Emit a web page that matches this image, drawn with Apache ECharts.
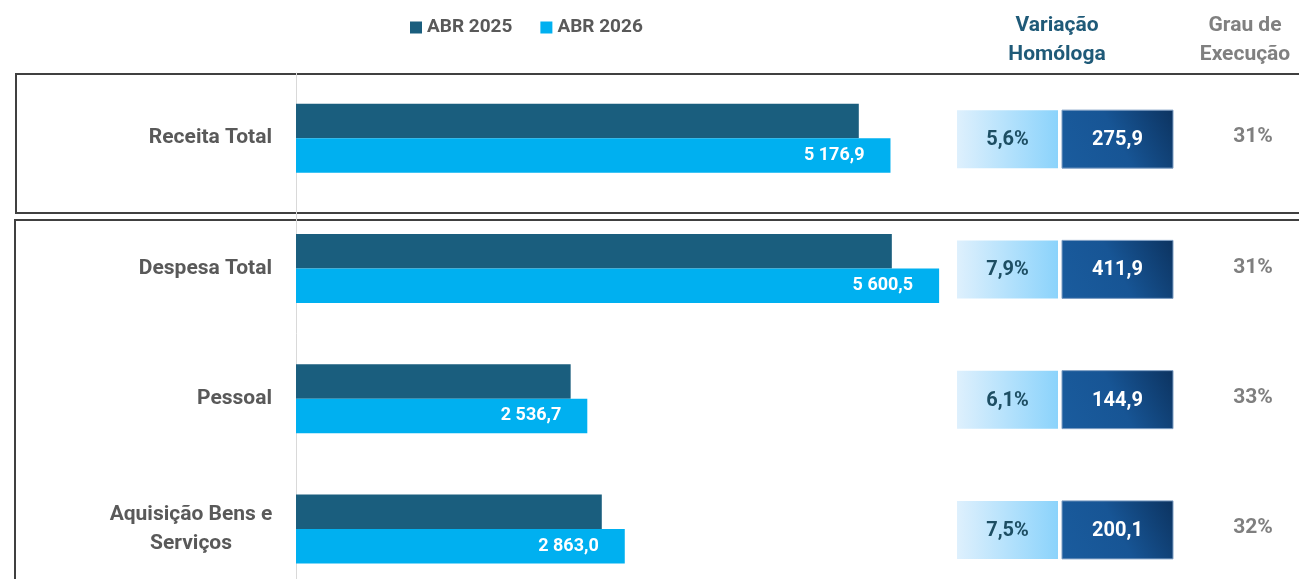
<!DOCTYPE html>
<html>
<head>
<meta charset="utf-8">
<script src="https://cdn.jsdelivr.net/npm/echarts@6/dist/echarts.min.js"></script>
<style>
  html, body { margin: 0; padding: 0; background: #fff; overflow: hidden; }
  #main { width: 1299px; height: 640px; }
</style>
</head>
<body>
<div id="main"></div>
<script>
// dados do gráfico
var categorias = ['Receita Total', 'Despesa Total', 'Pessoal', 'Aquisição Bens e\nServiços'];
var abr2025 = [4901.0, 5188.6, 2391.8, 2662.9];
var abr2026 = [5176.9, 5600.5, 2536.7, 2863.0];
var varPct = ['5,6%', '7,9%', '6,1%', '7,5%'];
var varAbs = [275.9, 411.9, 144.9, 200.1];
var grauExec = ['31%', '31%', '33%', '32%'];

var FONT = 'Roboto, "Noto Sans", sans-serif';

function fmt(v) {
  var s = v.toFixed(1).replace('.', ',');
  var p = s.split(',');
  p[0] = p[0].replace(/\B(?=(\d{3})+(?!\d))/g, ' ');
  return p.join(',');
}

var chart = echarts.init(document.getElementById('main'));

var ladoDireito = categorias.map(function (c, i) {
  return [0, c, varPct[i], varAbs[i], grauExec[i]];
});

chart.setOption({
  animation: false,
  textStyle: { fontFamily: FONT },
  legend: {
    data: ['ABR 2025', 'ABR 2026'],
    left: 405,
    top: 13,
    icon: 'rect',
    itemWidth: 12,
    itemHeight: 12,
    itemGap: 28,
    itemStyle: { borderWidth: 0 },
    textStyle: { color: '#595959', fontSize: 19, fontWeight: 'bold', fontFamily: FONT }
  },
  graphic: [
    { type: 'rect', shape: { x: 16, y: 74, width: 1320, height: 139 },
      style: { fill: 'none', stroke: '#404040', lineWidth: 2 }, z: -1 },
    { type: 'rect', shape: { x: 15, y: 220, width: 1320, height: 400 },
      style: { fill: 'none', stroke: '#404040', lineWidth: 2 }, z: -1 },
    { type: 'text', x: 1057, y: 11,
      style: { text: 'Variação\nHomóloga', fill: '#1f5a78', font: 'bold 21px ' + FONT,
        textAlign: 'center', lineHeight: 29 } },
    { type: 'text', x: 1245, y: 11,
      style: { text: 'Grau de\nExecução', fill: '#808080', font: 'bold 21px ' + FONT,
        textAlign: 'center', lineHeight: 29 } }
  ],
  grid: [
    { left: 296, top: 73, width: 689, height: 521 },
    { left: 957, top: 73, width: 342, height: 521 }
  ],
  xAxis: [
    { type: 'value', gridIndex: 0, min: 0, max: 6000, show: false },
    { type: 'value', gridIndex: 1, min: 0, max: 342, show: false }
  ],
  yAxis: [
    {
      type: 'category', gridIndex: 0, data: categorias, inverse: true,
      axisLine: { show: true, lineStyle: { color: '#d9d9d9', width: 1 } },
      axisTick: { show: false },
      axisLabel: {
        margin: 24,
        color: '#595959',
        fontSize: 21,
        fontWeight: 'bold',
        lineHeight: 29,
        formatter: function (v) {
          if (v.indexOf('\n') < 0) return v;
          return v.split('\n').map(function (l) { return '{m|' + l + '}'; }).join('\n');
        },
        rich: {
          m: { width: 162, align: 'center', color: '#595959', fontSize: 21,
            fontWeight: 'bold', lineHeight: 29, fontFamily: FONT }
        }
      }
    },
    { type: 'category', gridIndex: 1, data: categorias, inverse: true, show: false }
  ],
  series: [
    {
      name: 'ABR 2025', type: 'bar', xAxisIndex: 0, yAxisIndex: 0,
      data: abr2025, barWidth: 34.5, barGap: '0%',
      itemStyle: { color: '#1a5e7e' }
    },
    {
      name: 'ABR 2026', type: 'bar', xAxisIndex: 0, yAxisIndex: 0,
      data: abr2026, barWidth: 34.5, barGap: '0%',
      itemStyle: { color: '#00b0f0' },
      label: {
        show: true, position: 'insideRight', distance: 26,
        color: '#fff', fontSize: 18, fontWeight: 'bold', fontFamily: FONT,
        formatter: function (p) { return fmt(p.value); }
      }
    },
    {
      type: 'custom', xAxisIndex: 1, yAxisIndex: 1,
      data: ladoDireito,
      encode: { x: 0, y: 1 },
      renderItem: function (params, api) {
        var pt = api.coord([0, api.value(1)]);
        var x0 = params.coordSys.x;
        var cy = pt[1] + 1;
        var h = 58;
        var d = ladoDireito[params.dataIndex];
        return {
          type: 'group',
          children: [
            { type: 'rect', shape: { x: x0, y: cy - h / 2, width: 101, height: h },
              style: { fill: new echarts.graphic.LinearGradient(0, 0, 1, 0, [
                { offset: 0, color: '#def0fd' }, { offset: 1, color: '#8bd3fb' }]) } },
            { type: 'rect', shape: { x: x0 + 105, y: cy - h / 2, width: 111, height: h },
              style: { fill: new echarts.graphic.LinearGradient(0, 1, 1, 0, [
                { offset: 0, color: '#1a5c9e' }, { offset: 0.5, color: '#175595' }, { offset: 1, color: '#0c3360' }]),
                stroke: '#7f9fc4', lineWidth: 1 } },
            { type: 'text', x: x0 + 50.5, y: cy + 1,
              style: { text: d[2], fill: '#1d4e63', font: 'bold 20px ' + FONT,
                textAlign: 'center', textVerticalAlign: 'middle' } },
            { type: 'text', x: x0 + 160.5, y: cy + 1,
              style: { text: fmt(d[3]), fill: '#ffffff', font: 'bold 20px ' + FONT,
                textAlign: 'center', textVerticalAlign: 'middle' } },
            { type: 'text', x: x0 + 296, y: cy - 2,
              style: { text: d[4], fill: '#7f7f7f', font: 'bold 21px ' + FONT,
                textAlign: 'center', textVerticalAlign: 'middle' } }
          ]
        };
      }
    }
  ]
});
</script>
</body>
</html>
